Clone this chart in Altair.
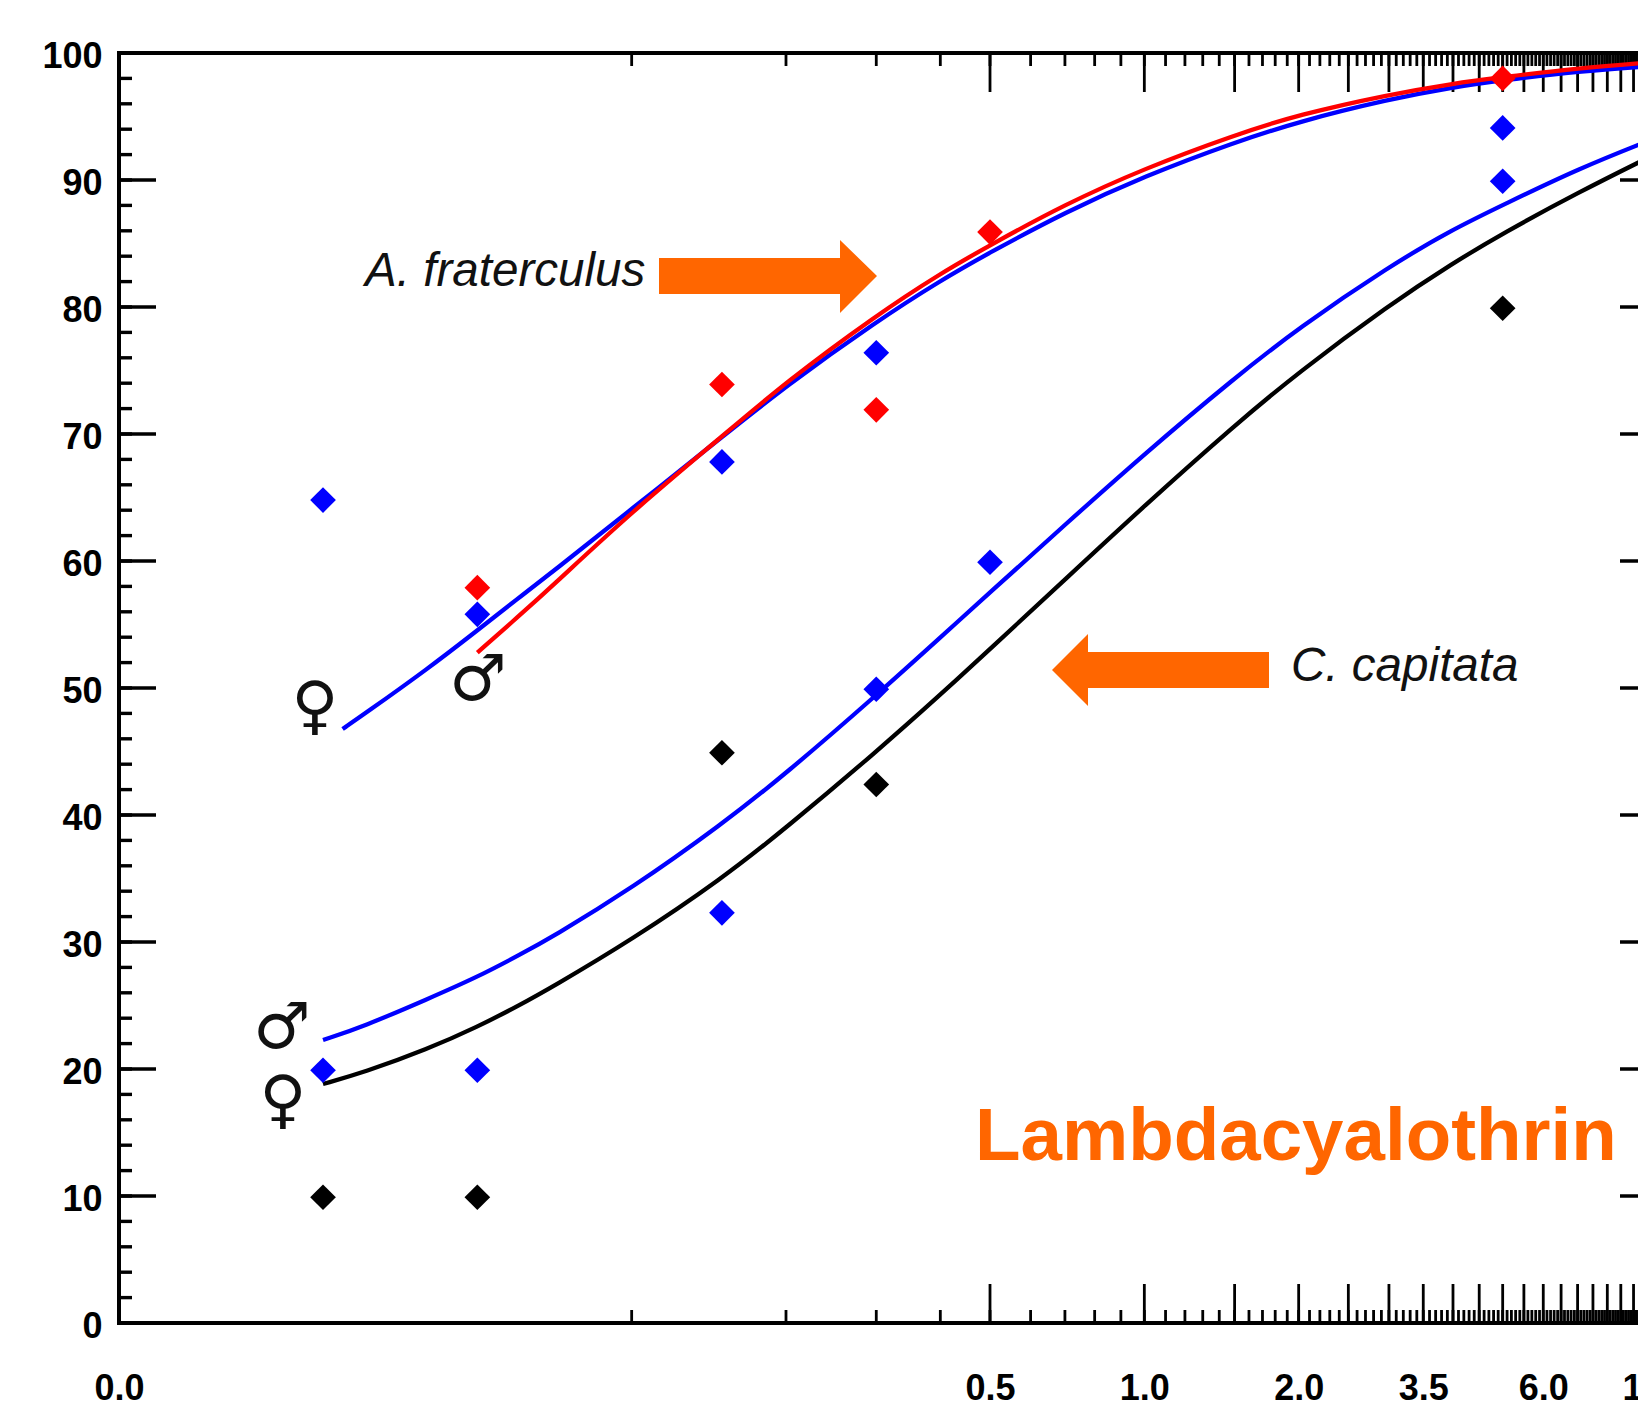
import altair as alt
import pandas as pd

W, H = 1538, 1270
FONT = "Liberation Sans"
ORANGE = "#FF6600"

# ---- observed points ----
blue_pts_x = [0.025, 0.05, 0.15, 0.3, 5, 0.025, 0.05, 0.15, 0.3, 0.5, 5]
blue_pts_y = [64.8, 55.8, 67.8, 76.4, 94.1, 19.9, 19.9, 32.3, 49.9, 59.9, 89.9]
red_pts_x = [0.05, 0.15, 0.3, 0.5, 5]
red_pts_y = [57.9, 73.9, 71.9, 85.9, 98.0]
black_pts_x = [0.025, 0.05, 0.15, 0.3, 5]
black_pts_y = [9.9, 9.9, 44.9, 42.4, 79.9]

# ---- fitted curves ----
af_f_x = [0.0273, 0.03, 0.04, 0.05, 0.06, 0.07, 0.1, 0.15, 0.2, 0.3, 0.4, 0.5, 0.7, 1, 1.5, 2, 3, 4, 5, 7, 10]
af_f_y = [46.77, 47.91, 51.5, 54.53, 57.05, 59.13, 64.09, 69.76, 73.78, 78.85, 82.08, 84.3, 87.45, 90.3, 92.97, 94.6, 96.36, 97.3, 97.85, 98.55, 99.0]
af_m_x = [0.05, 0.06, 0.07, 0.1, 0.15, 0.2, 0.3, 0.4, 0.5, 0.7, 1, 1.5, 2, 3, 4, 5, 7, 10]
af_m_y = [52.78, 55.6, 58.03, 63.86, 69.8, 74.1, 79.35, 82.64, 84.87, 88.08, 90.91, 93.54, 95.15, 96.73, 97.6, 98.1, 98.8, 99.3]
cc_x = [0.025, 0.03, 0.04, 0.05, 0.06, 0.07, 0.1, 0.15, 0.2, 0.3, 0.4, 0.5, 0.7, 1, 1.5, 2, 3, 4, 5, 7, 10]
cc_m_y = [22.28, 23.35, 25.51, 27.24, 28.92, 30.39, 34.22, 39.27, 43.26, 49.42, 53.98, 57.52, 62.85, 68.43, 74.42, 78.35, 83.19, 86.13, 88.02, 90.87, 93.35]
cc_f_y = [18.82, 19.72, 21.57, 23.31, 24.96, 26.46, 30.17, 34.98, 38.98, 44.97, 49.47, 53.06, 58.54, 64.35, 70.69, 74.87, 80.15, 83.46, 85.79, 89.0, 92.1]

# ---- axes ----
x_labels = [0.01, 0.5, 1, 2, 3.5, 6, 10]
y_labels = [0, 10, 20, 30, 40, 50, 60, 70, 80, 90, 100]
x_major = [i / 2 for i in range(1, 21)]
x_minor = [i / 10 for i in range(1, 101)]
y_minor = [i * 2 for i in range(0, 51)]

x_scale = alt.Scale(type="log", domain=[0.01, 10], nice=False)
y_scale = alt.Scale(domain=[0, 100], nice=False)
x_axis = alt.Axis(values=x_labels, format=".1f", ticks=False, domain=False, grid=False, tickSize=0,
                  labelFont=FONT, labelFontWeight="bold", labelFontSize=36, labelColor="black",
                  labelPadding=48, labelFlush=False, labelOverlap=False, labelBound=False)
y_axis = alt.Axis(values=y_labels, ticks=False, domain=False, grid=False, tickSize=0,
                  labelFont=FONT, labelFontWeight="bold", labelFontSize=36, labelColor="black",
                  labelPadding=17, labelOffset=3, labelFlush=False, labelOverlap=False, labelBound=False)
x_enc = alt.X("x:Q", scale=x_scale, axis=x_axis, title=None)
y_enc = alt.Y("y:Q", scale=y_scale, axis=y_axis, title=None)


def df_xy(xs, ys):
    return pd.DataFrame({"x": xs, "y": ys})


def ticks_x(vals, y0, y1, w):
    return alt.Chart(pd.DataFrame({"x": vals})).mark_rule(color="black", strokeWidth=w).encode(
        x=x_enc, y=alt.value(y0), y2=alt.value(y1))


def ticks_y(vals, x0, x1, w):
    return alt.Chart(pd.DataFrame({"y": vals})).mark_rule(color="black", strokeWidth=w).encode(
        y=y_enc, x=alt.value(x0), x2=alt.value(x1))


def curve(xs, ys, color):
    return alt.Chart(df_xy(xs, ys)).mark_line(color=color, strokeWidth=4.3, interpolate="basis").encode(
        x=x_enc, y=y_enc)


def pts(xs, ys, color):
    return alt.Chart(df_xy(xs, ys)).mark_point(shape="diamond", filled=True, color=color, opacity=1, size=660, strokeWidth=0).encode(
        x=x_enc, y=y_enc)


one = pd.DataFrame({"a": [0]})


def arrow(path):
    return alt.Chart(one).mark_point(shape=path, filled=True, color=ORANGE, opacity=1, size=4, strokeWidth=0).encode(
        x=alt.value(0), y=alt.value(0))


def note(t, x, y, **kw):
    return alt.Chart(one).mark_text(text=t, **kw).encode(x=alt.value(x), y=alt.value(y))


ital = dict(font=FONT, fontStyle="italic", fontSize=47.6, align="left", baseline="middle", color="#111111")
gend = dict(font="DejaVu Sans", fontSize=64, align="center", baseline="middle", color="#111111")

layers = [
    ticks_x(x_minor, H, H - 13, 2.8), ticks_x(x_major, H, H - 39, 2.8),
    ticks_x(x_minor, 0, 13, 2.8), ticks_x(x_major, 0, 39, 2.8),
    ticks_y(y_minor, 0, 13, 3.4), ticks_y(y_labels, 0, 37, 3.4),
    ticks_y(y_minor, W - 13, W, 3.4), ticks_y(y_labels, W - 37, W, 3.4),
    curve(cc_x, cc_f_y, "#000000"),
    curve(cc_x, cc_m_y, "#0000FF"),
    curve(af_f_x, af_f_y, "#0000FF"),
    curve(af_m_x, af_m_y, "#FF0000"),
    pts(black_pts_x, black_pts_y, "#000000"),
    pts(blue_pts_x, blue_pts_y, "#0000FF"),
    pts(red_pts_x, red_pts_y, "#FF0000"),
    arrow("M540 205H721V187L758 223L721 260V241H540Z"),
    arrow("M933 617L969 581V599H1150V635H969V653Z"),
    note("A. fraterculus", 246, 219, **ital),
    note("C. capitata", 1172, 614, **ital),
    note("♀", 196, 655, **gend),
    note("♂", 359, 628, **gend),
    note("♂", 163, 976, **gend),
    note("♀", 164, 1049, **gend),
    note("Lambdacyalothrin", 856, 1107, font=FONT, fontWeight="bold", fontSize=74.5, align="left",
         baseline="alphabetic", color=ORANGE),
]

chart = alt.layer(*layers).properties(
    width=W, height=H,
    autosize=alt.AutoSizeParams(type="none"),
    padding={"left": 111, "top": 45, "right": -19, "bottom": 85},
    background="white",
).configure_view(stroke="black", strokeWidth=4)

chart.save("out.html", embed_options={"renderer": "svg", "actions": False})
